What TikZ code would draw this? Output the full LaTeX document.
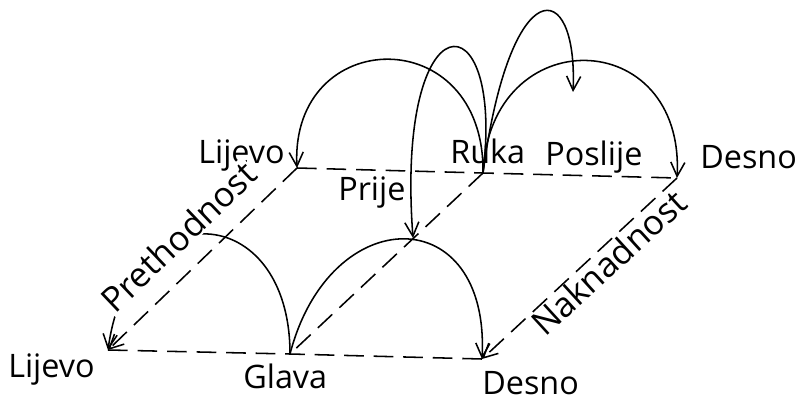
\documentclass[tikz,border=0pt]{standalone}
\usepackage{fontspec}
\setmainfont{Open Sans}
\usetikzlibrary{arrows.meta}
\begin{document}
\begin{tikzpicture}[x=0.025cm,y=-0.025cm,
  dashline/.style={line width=1.1pt, dash pattern=on 14pt off 7pt},
  curveline/.style={line width=1.1pt},
  tip/.style={-{Straight Barb[length=10pt,width=10pt]}},
  lbl/.style={font=\fontsize{23}{27}\selectfont, inner sep=0pt, anchor=base west},
  rlbl/.style={lbl, font=\fontsize{24.5}{28}\selectfont}
]
\useasboundingbox (0,0) rectangle (800,400);
\fill[white] (0,0) rectangle (800,400);
% corner points
\coordinate (L1) at (297,168);
\coordinate (R)  at (483,173);
\coordinate (D1) at (677,178);
\coordinate (L2) at (108,350);
\coordinate (G)  at (290,354);
\coordinate (D2) at (482,359);
\coordinate (M)  at (413,238);
\coordinate (X)  at (573,92);
% dashed frame
\draw[dashline] (L1) -- (R) -- (D1);
\draw[dashline] (L2) -- (G) -- (D2);
\draw[dashline,tip] (L1) -- (L2);
\draw[dashline,tip] (D1) -- (D2);
\draw[dashline] (R) -- (G);
% arcs
\draw[curveline,tip] (R) .. controls (485,20) and (290,25) .. (L1);
\draw[curveline,tip] (R) .. controls (490,20) and (685,25) .. (D1);
\draw[curveline,tip] (R) .. controls (505,-5) and (395,-5) .. (M);
\draw[curveline,tip] (R) .. controls (510,-30) and (578,-25) .. (X);
\draw[curveline,tip] (G) .. controls (290,200) and (130,190) .. (L2);
\draw[curveline,tip] (G) .. controls (330,200) and (490,200) .. (D2);
% labels
\node[lbl] (lijevo1) at (198,163) {Lijevo};
\node[lbl] (ruka) at (450,163) {Ruka};
\node[lbl] (poslije) at (545,165) {Poslije};
\node[lbl] (desno1) at (700,168) {Desno};
\node[lbl] (prije) at (338,200) {Prije};
\node[lbl] (lijevo2) at (8,377) {Lijevo};
\node[lbl] (glava) at (243,388) {Glava};
\node[lbl] (desno2) at (482,394) {Desno};
\node[rlbl,rotate=43.6,fill=white,inner sep=1pt] (preth) at (114,316) {Prethodnost};
\node[rlbl,rotate=42.4] (nakn) at (545,338) {Naknadnost};
\end{tikzpicture}
\end{document}
